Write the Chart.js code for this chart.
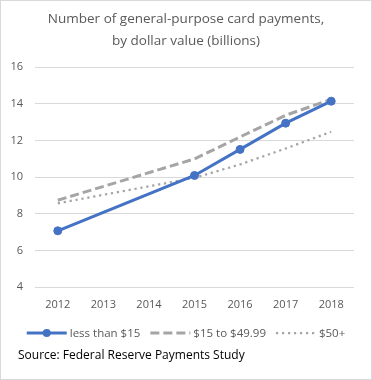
<!DOCTYPE html>
<html>
<head>
<meta charset="utf-8">
<script src="https://cdn.jsdelivr.net/npm/chart.js@4/dist/chart.umd.min.js"></script>
<style>
  html, body { margin: 0; padding: 0; background: #fff; }
  #wrap { width: 372px; height: 380px; }
</style>
</head>
<body>
<div id="wrap"><canvas id="chart" width="372" height="380"></canvas></div>
<script>
const years = ['2012', '2013', '2014', '2015', '2016', '2017', '2018'];
const under15 = [7.08, null, null, 10.1, 11.52, 12.95, 14.15];
const mid15to50 = [8.75, null, null, 11.0, 12.2, 13.38, 14.25];
const over50 = [8.58, null, null, 9.97, 10.7, 11.57, 12.48];
const seriesNames = ['less than $15', '$15 to $49.99', '$50+'];
const titleLines = ['Number of general-purpose card payments,', 'by dollar value (billions)'];
const sourceText = 'Source: Federal Reserve Payments Study';

const FONT = "'Open Sans', sans-serif";
const BLUE = '#4472C4';
const GRAY = '#A5A5A5';

// frame, legend and source line drawn straight onto the canvas
const frameAndLegend = {
    id: 'frameAndLegend',
    beforeDraw(chart) {
        const ctx = chart.ctx;
        ctx.save();
        ctx.fillStyle = '#fff';
        ctx.fillRect(0, 0, chart.width, chart.height);
        ctx.strokeStyle = '#d9d9d9';
        ctx.lineWidth = 1;
        ctx.strokeRect(0.5, 0.5, chart.width - 1, chart.height - 1);
        ctx.restore();
    },
    afterDraw(chart) {
        const ctx = chart.ctx;
        const y = 333;
        const sample = 40, gapText = 3, gapItem = 10;
        ctx.save();
        ctx.font = '11.5px ' + FONT;
        ctx.textBaseline = 'middle';
        const items = chart.data.datasets.map(ds => ({ ds, w: ctx.measureText(ds.label).width }));
        let total = 0;
        items.forEach((it, i) => { total += sample + gapText + it.w + (i < items.length - 1 ? gapItem : 0); });
        let x = (chart.width - total) / 2;
        items.forEach(({ ds, w }) => {
            ctx.strokeStyle = ds.borderColor;
            ctx.lineWidth = ds.borderWidth;
            ctx.lineCap = 'butt';
            ctx.setLineDash(ds.borderDash || []);
            ctx.beginPath();
            ctx.moveTo(x, y);
            ctx.lineTo(x + sample, y);
            ctx.stroke();
            ctx.setLineDash([]);
            if (ds.pointRadius > 0) {
                ctx.fillStyle = ds.pointBackgroundColor;
                ctx.beginPath();
                ctx.arc(x + sample / 2, y, ds.pointRadius, 0, Math.PI * 2);
                ctx.fill();
            }
            x += sample + gapText;
            ctx.fillStyle = '#595959';
            ctx.fillText(ds.label, x, y + 0.5);
            x += w + gapItem;
        });

        ctx.font = '12px ' + FONT;
        ctx.fillStyle = '#000';
        ctx.fillText(sourceText, 18, 356);
        ctx.restore();
    }
};

new Chart(document.getElementById('chart'), {
    type: 'line',
    data: {
        labels: years,
        datasets: [
            {
                label: seriesNames[0], data: under15,
                borderColor: BLUE, borderWidth: 3,
                pointRadius: 4, pointBackgroundColor: BLUE, pointBorderColor: BLUE,
                pointBorderWidth: 1, pointHoverRadius: 4, spanGaps: true, order: 1
            },
            {
                label: seriesNames[1], data: mid15to50,
                borderColor: GRAY, borderWidth: 3, borderDash: [9, 4],
                pointRadius: 0, spanGaps: true, order: 2
            },
            {
                label: seriesNames[2], data: over50,
                borderColor: GRAY, borderWidth: 2.25, borderDash: [2.25, 3.75],
                pointRadius: 0, spanGaps: true, order: 3
            }
        ]
    },
    options: {
        responsive: false,
        animation: false,
        events: [],
        layout: { padding: { left: 0, right: 0, top: 0, bottom: 57.5 } },
        plugins: {
            legend: { display: false },
            tooltip: { enabled: false },
            title: {
                display: true,
                text: titleLines,
                color: '#595959',
                font: { family: FONT, size: 13.5, weight: 'normal', lineHeight: 1.65 },
                padding: { top: 8, bottom: 14.7 }
            }
        },
        scales: {
            x: {
                offset: true,
                grid: { display: false, drawTicks: false },
                border: { display: false },
                ticks: { color: '#595959', font: { family: FONT, size: 11 }, padding: 11, maxRotation: 0 }
            },
            y: {
                min: 4, max: 16,
                afterFit(scale) { scale.width = 35; },
                grid: { color: '#d9d9d9', drawTicks: false },
                border: { display: false },
                ticks: { stepSize: 2, color: '#595959', font: { family: FONT, size: 11 }, padding: 12 }
            },
            // empty right-hand spacer so the plot ends where the reference does
            yRight: {
                position: 'right',
                afterFit(scale) { scale.width = 18; },
                grid: { display: false, drawTicks: false },
                border: { display: false },
                ticks: { display: false }
            }
        }
    },
    plugins: [frameAndLegend]
});
</script>
</body>
</html>
